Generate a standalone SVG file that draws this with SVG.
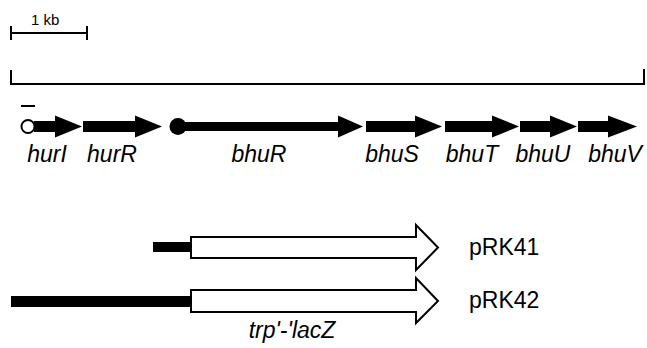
<svg xmlns="http://www.w3.org/2000/svg" width="647" height="348" viewBox="0 0 647 348">
<style>
.ln{stroke:#000;stroke-width:2;fill:none}
.gene{fill:#000}
.open{fill:#fff;stroke:#000;stroke-width:2;stroke-linejoin:miter}
.bar{fill:#000}
.lbl{font-family:"Liberation Sans",Arial,sans-serif;font-style:italic;font-size:23px;fill:#000;text-anchor:middle}
.pl{font-family:"Liberation Sans",Arial,sans-serif;font-size:23px;fill:#000}
.sc{font-family:"Liberation Sans",Arial,sans-serif;font-size:15px;fill:#000}
</style>
<rect width="647" height="348" fill="#fff"/>
<g id="scale">
<path class="ln" d="M11,33 H87 M11,26 V40 M87,26 V40"/>
<text class="sc" x="31" y="25">1 kb</text>
</g>
<g id="bracket">
<path class="ln" d="M11,70 V84 H644 V69"/>
</g>
<g id="hurI">
<line class="ln" x1="21" y1="106" x2="35" y2="106"/>
<polygon class="gene" points="34,121 55,121 55,115.5 82,126.5 55,137.5 55,132 34,132"/>
<circle cx="28" cy="126.5" r="6.5" fill="#fff" stroke="#000" stroke-width="2"/>
<text class="lbl" x="47" y="162">hurI</text>
</g>
<g id="hurR">
<polygon class="gene" points="83,121 135,121 135,115.5 162,126.5 135,137.5 135,132 83,132"/>
<text class="lbl" x="112" y="162">hurR</text>
</g>
<g id="bhuR">
<polygon class="gene" points="178,122 338,122 338,115.5 363,126.5 338,137.5 338,131 178,131"/>
<circle cx="178" cy="126.5" r="8.5" fill="#000"/>
<text class="lbl" x="259" y="162">bhuR</text>
</g>
<g id="bhuS">
<polygon class="gene" points="366,121 415,121 415,115.5 442,126.5 415,137.5 415,132 366,132"/>
<text class="lbl" x="392" y="162">bhuS</text>
</g>
<g id="bhuT">
<polygon class="gene" points="445,121 492,121 492,115.5 519,126.5 492,137.5 492,132 445,132"/>
<text class="lbl" x="472" y="162">bhuT</text>
</g>
<g id="bhuU">
<polygon class="gene" points="520,121 550,121 550,115.5 577,126.5 550,137.5 550,132 520,132"/>
<text class="lbl" x="543" y="162">bhuU</text>
</g>
<g id="bhuV">
<polygon class="gene" points="578,121 608,121 608,115.5 637,126.5 608,137.5 608,132 578,132"/>
<text class="lbl" x="615" y="162">bhuV</text>
</g>
<g id="pRK41">
<rect class="bar" x="153" y="242" width="38" height="10"/>
<polygon class="open" points="191,237 416,237 416,225 438,247.5 416,270 416,258 191,258"/>
<text class="pl" x="469" y="255">pRK41</text>
</g>
<g id="pRK42">
<rect class="bar" x="11" y="296" width="180" height="11"/>
<polygon class="open" points="191,290 416,290 416,278 438,301 416,323 416,312 191,312"/>
<text class="pl" x="469" y="308">pRK42</text>
<text class="lbl" x="292" y="338">trp'-'lacZ</text>
</g>
</svg>
